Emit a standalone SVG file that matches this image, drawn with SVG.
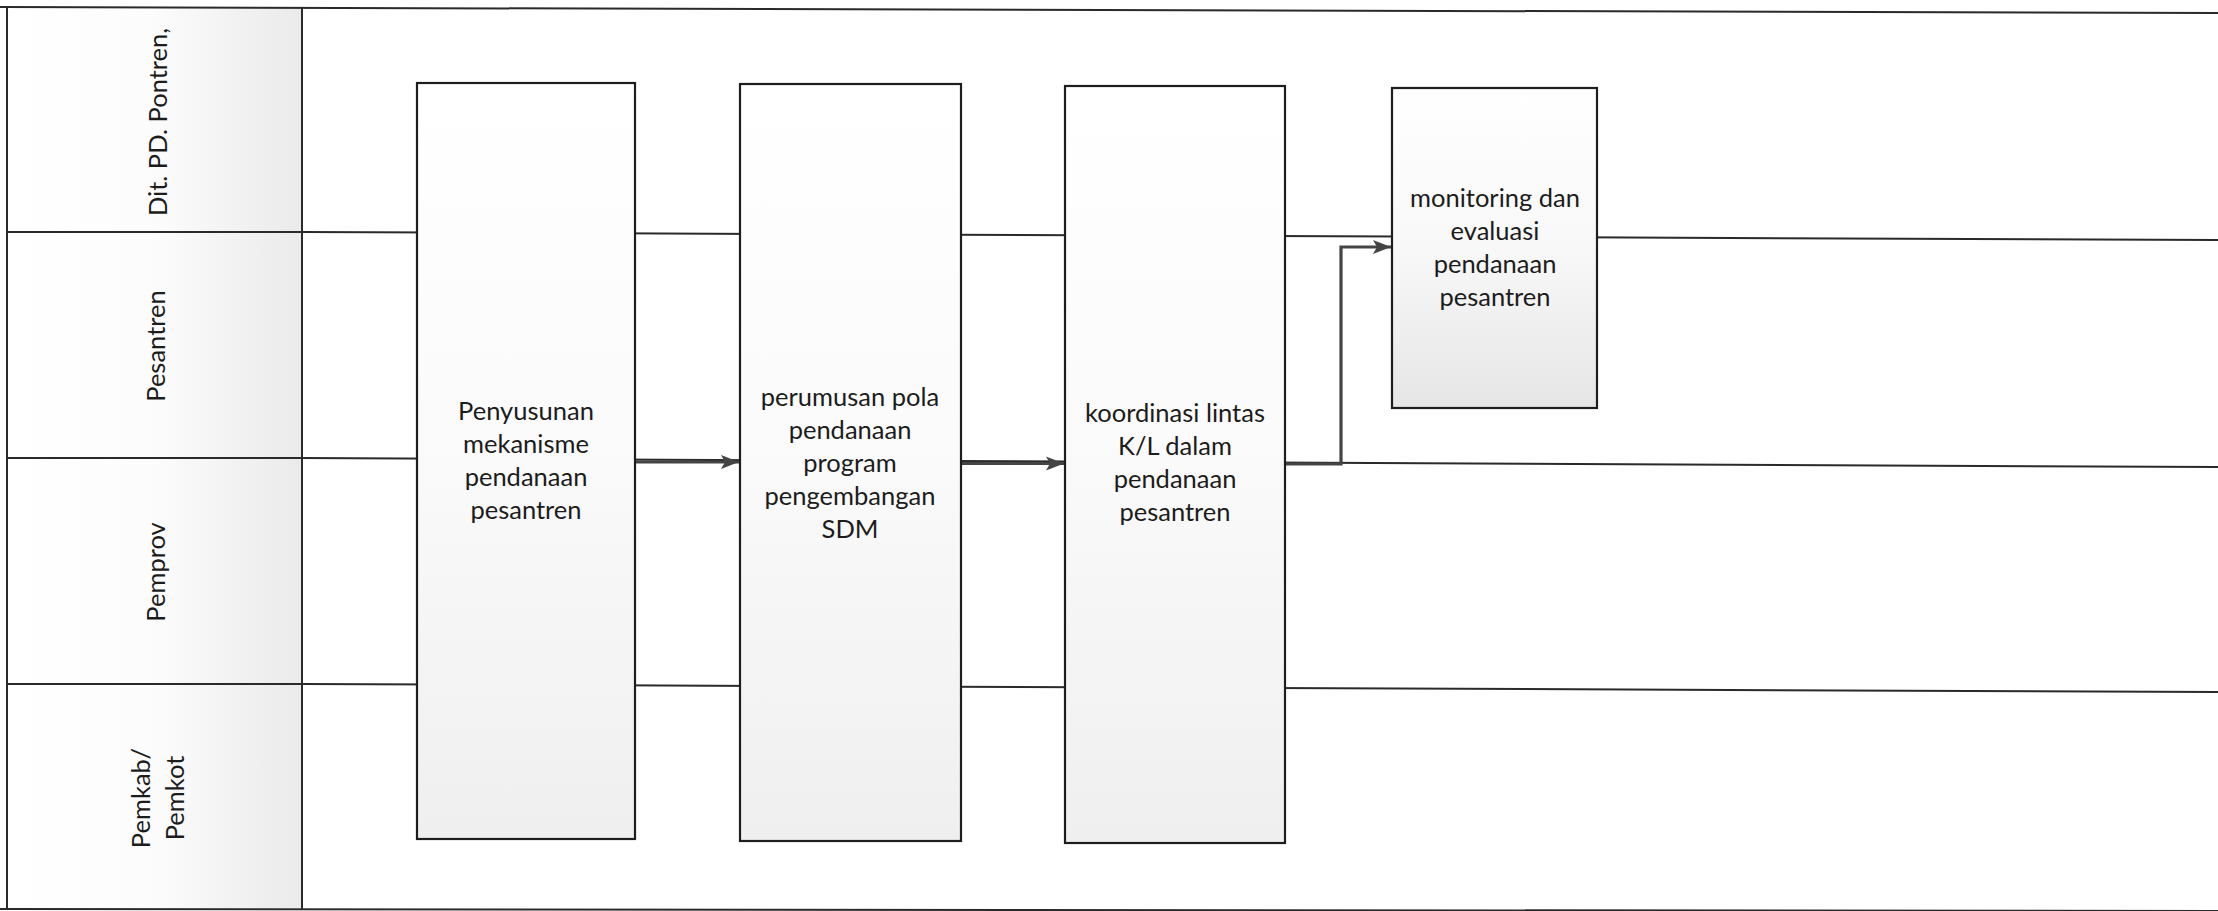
<svg xmlns="http://www.w3.org/2000/svg" width="2218" height="911" viewBox="0 0 2218 911">
<defs>
<linearGradient id="hdr" x1="0" y1="0" x2="1" y2="0">
<stop offset="0" stop-color="#ffffff"/>
<stop offset="0.5" stop-color="#fcfcfc"/>
<stop offset="1" stop-color="#eaeaea"/>
</linearGradient>
<linearGradient id="box" x1="0" y1="0" x2="0" y2="1">
<stop offset="0" stop-color="#ffffff"/>
<stop offset="0.45" stop-color="#fbfbfb"/>
<stop offset="1" stop-color="#efefef"/>
</linearGradient>
<linearGradient id="box4" x1="0" y1="0" x2="0" y2="1">
<stop offset="0" stop-color="#ffffff"/>
<stop offset="0.5" stop-color="#f8f8f8"/>
<stop offset="1" stop-color="#e6e6e6"/>
</linearGradient>
<marker id="arr" markerUnits="userSpaceOnUse" markerWidth="20" markerHeight="16" refX="18" refY="8" orient="auto">
<path d="M0,1 L18,8 L0,15 L4,8 Z" fill="#444"/>
</marker>
</defs>
<style>
.lane{stroke:#2a2a2a;stroke-width:2;fill:none}
.bx{stroke:#1e1e1e;stroke-width:2.2}
.t{font-family:Lato,"Liberation Sans",sans-serif;font-size:25.5px;fill:#1c1c1c;text-anchor:middle}
.h{font-family:Lato,"Liberation Sans",sans-serif;font-size:25.5px;fill:#1c1c1c;text-anchor:middle}
.conn{stroke:#444;stroke-width:3.2;fill:none}
</style>
<rect x="0" y="0" width="2218" height="911" fill="#ffffff"/>
<g id="lanes">
<rect x="7" y="7" width="295" height="901" fill="url(#hdr)"/>
<line class="lane" x1="0" y1="7" x2="2218" y2="13"/>
<line class="lane" x1="0" y1="909" x2="2218" y2="911"/>
<line class="lane" x1="7" y1="7" x2="7" y2="909"/>
<line class="lane" x1="302" y1="7" x2="302" y2="909"/>
<line class="lane" x1="7" y1="232" x2="302" y2="232"/>
<line class="lane" x1="302" y1="232" x2="2218" y2="240"/>
<line class="lane" x1="7" y1="458" x2="302" y2="458"/>
<line class="lane" x1="302" y1="458" x2="2218" y2="467"/>
<line class="lane" x1="7" y1="684" x2="302" y2="684"/>
<line class="lane" x1="302" y1="684" x2="2218" y2="692"/>
</g>
<g id="lane-labels">
<text class="h" transform="translate(167,122) rotate(-90)">Dit. PD. Pontren,</text>
<text class="h" transform="translate(165,346) rotate(-90)">Pesantren</text>
<text class="h" transform="translate(165,572) rotate(-90)">Pemprov</text>
<text class="h" transform="translate(150,798) rotate(-90)">Pemkab/</text>
<text class="h" transform="translate(184,798) rotate(-90)">Pemkot</text>
</g>
<g id="connectors">
<line class="conn" x1="636" y1="462" x2="739" y2="462" marker-end="url(#arr)"/>
<line class="conn" x1="962" y1="463.5" x2="1064" y2="463.5" marker-end="url(#arr)"/>
<path class="conn" d="M1286,464 H1341 V247 H1391" marker-end="url(#arr)"/>
</g>
<g id="node1">
<rect class="bx" x="417" y="83" width="218" height="756" fill="url(#box)"/>
<text class="t" x="526" y="420">Penyusunan</text>
<text class="t" x="526" y="453">mekanisme</text>
<text class="t" x="526" y="486">pendanaan</text>
<text class="t" x="526" y="519">pesantren</text>
</g>
<g id="node2">
<rect class="bx" x="740" y="84" width="221" height="757" fill="url(#box)"/>
<text class="t" x="850" y="406">perumusan pola</text>
<text class="t" x="850" y="439">pendanaan</text>
<text class="t" x="850" y="472">program</text>
<text class="t" x="850" y="505">pengembangan</text>
<text class="t" x="850" y="538">SDM</text>
</g>
<g id="node3">
<rect class="bx" x="1065" y="86" width="220" height="757" fill="url(#box)"/>
<text class="t" x="1175" y="422">koordinasi lintas</text>
<text class="t" x="1175" y="455">K/L dalam</text>
<text class="t" x="1175" y="488">pendanaan</text>
<text class="t" x="1175" y="521">pesantren</text>
</g>
<g id="node4">
<rect class="bx" x="1392" y="88" width="205" height="320" fill="url(#box4)"/>
<text class="t" x="1495" y="207">monitoring dan</text>
<text class="t" x="1495" y="240">evaluasi</text>
<text class="t" x="1495" y="273">pendanaan</text>
<text class="t" x="1495" y="306">pesantren</text>
</g>
</svg>
